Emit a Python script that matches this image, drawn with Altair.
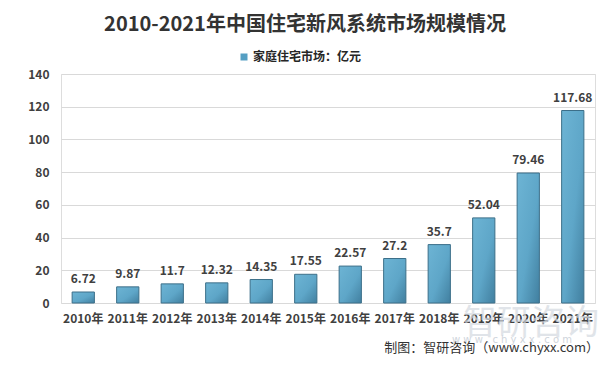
import altair as alt
import pandas as pd

years = ["2010年", "2011年", "2012年", "2013年", "2014年", "2015年",
         "2016年", "2017年", "2018年", "2019年", "2020年", "2021年"]
values = [6.72, 9.87, 11.7, 12.32, 14.35, 17.55, 22.57, 27.2, 35.7, 52.04, 79.46, 117.68]
labels = ["6.72", "9.87", "11.7", "12.32", "14.35", "17.55", "22.57", "27.2", "35.7", "52.04", "79.46", "117.68"]
series_name = "家庭住宅市场：亿元"
title_text = "2010-2021年中国住宅新风系统市场规模情况"
source_text = "制图：智研咨询（www.chyxx.com）"

df = pd.DataFrame({"year": years, "value": values, "label": labels, "series": series_name})

FONT = "Noto Sans CJK SC"
W, H = 534, 229

x = alt.X("year:N", sort=years, title=None,
          scale=alt.Scale(paddingInner=0.5, paddingOuter=0.25),
          axis=alt.Axis(labelAngle=0, ticks=False, domain=False, labelPadding=10,
                        labelFont=FONT, labelFontSize=12, labelFontWeight="bold",
                        labelColor="#404040"))
y = alt.Y("value:Q", title=None,
          scale=alt.Scale(domain=[0, 140], nice=False),
          axis=alt.Axis(values=[0, 20, 40, 60, 80, 100, 120, 140], ticks=False, domain=False,
                        labelPadding=12, labelFont=FONT, labelFontSize=12,
                        labelFontWeight="bold", labelColor="#404040",
                        grid=True, gridColor="#d9d9d9", gridWidth=1))

gradient = alt.Gradient(
    gradient="linear", x1=0, y1=0, x2=1, y2=1,
    stops=[alt.GradientStop(color="#6db4d4", offset=0),
           alt.GradientStop(color="#5ea6c8", offset=0.55),
           alt.GradientStop(color="#417f9f", offset=1)])

base = alt.Chart(df)

bars = base.mark_bar(fill=gradient, stroke="#3c6f89", strokeWidth=1).encode(x=x, y=y)

legend_layer = base.mark_square(opacity=0, size=1).encode(
    x=x, y=y,
    color=alt.Color("series:N", scale=alt.Scale(range=["#559fc3"]),
                    legend=alt.Legend(title=None, orient="none", legendX=177, legendY=-23,
                                      symbolType="square", symbolSize=49, symbolOpacity=1,
                                      symbolStrokeWidth=0, labelFont=FONT, labelFontSize=12,
                                      labelFontWeight="bold", labelColor="#262626",
                                      labelOffset=3)))

text = base.mark_text(font=FONT, fontSize=12, fontWeight="bold", color="#404040",
                      baseline="bottom", dy=-6).encode(x=x, y=y, text="label:N")

wm_df = pd.DataFrame({"t": ["智研咨询"]})
watermark = alt.Chart(wm_df).mark_text(font=FONT, fontSize=34, color="#d3d9e0", opacity=0.7,
                                      align="center", baseline="middle").encode(
    x=alt.value(470), y=alt.value(250), text="t:N")
wm2_df = pd.DataFrame({"t": ["w w w . c h y x x . c o m"]})
watermark2 = alt.Chart(wm2_df).mark_text(font="DejaVu Sans", fontSize=10, color="#cfd5dc",
                                         align="center", baseline="middle").encode(
    x=alt.value(451), y=alt.value(266), text="t:N")

src_df = pd.DataFrame({"t": [source_text]})
source = alt.Chart(src_df).mark_text(font=FONT, fontSize=13, color="#333333",
                                     align="right", baseline="middle").encode(
    x=alt.value(538), y=alt.value(274), text="t:N")

chart = alt.layer(watermark, watermark2, bars, legend_layer, text, source).properties(
    width=W, height=H,
    title=alt.Title(title_text, font=FONT, fontSize=20, fontWeight="bold", color="#333333",
                    anchor="middle", dx=-23, offset=16),
    autosize=alt.AutoSizeParams(type="none"),
    padding={"left": 53, "top": 66, "right": 6, "bottom": 54},
).configure_view(stroke=None).configure(background="white")

chart.save("out.html", embed_options={"renderer": "svg", "actions": False})
